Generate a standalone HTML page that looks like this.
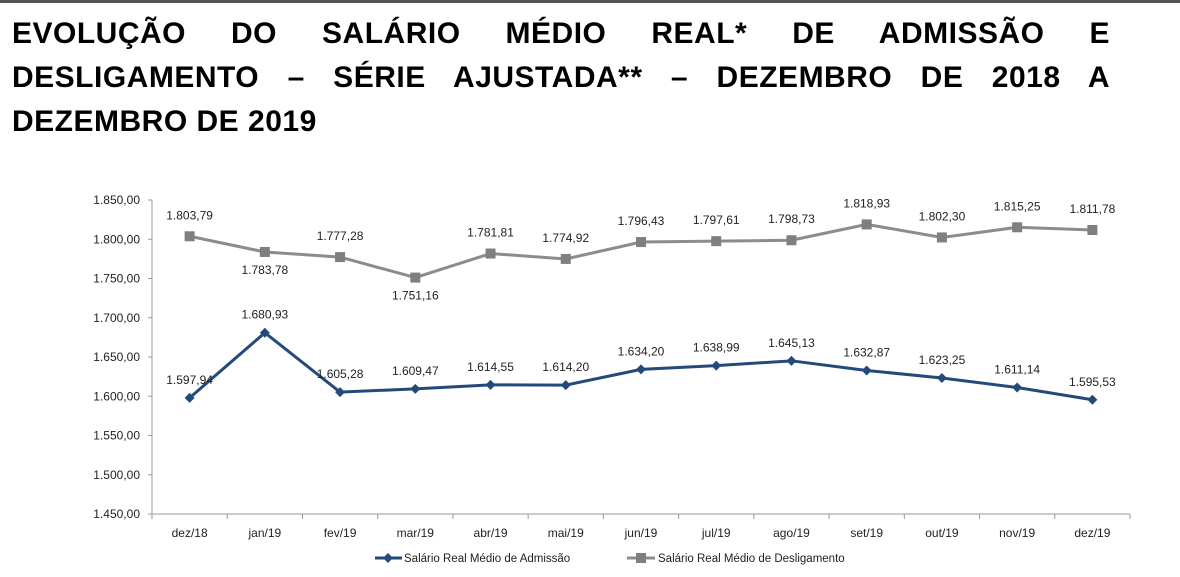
<!DOCTYPE html>
<html><head><meta charset="utf-8"><style>
body{margin:0;width:1180px;height:577px;background:#fff;overflow:hidden;position:relative;font-family:"Liberation Sans",sans-serif}
#topbar{position:absolute;left:0;top:0;width:1180px;height:3px;background:#555}
#title{position:absolute;left:12px;top:12px;width:1098px;font-weight:bold;font-size:30px;line-height:44px;text-align:justify;text-align-last:left;color:#000;letter-spacing:0.5px}
svg{position:absolute;left:0;top:0}
</style></head><body>
<div id="topbar"></div>
<div id="title">EVOLUÇÃO DO SALÁRIO MÉDIO REAL* DE ADMISSÃO E DESLIGAMENTO – SÉRIE AJUSTADA** – DEZEMBRO DE 2018 A DEZEMBRO DE 2019</div>
<svg id="chart" width="1180" height="577"></svg>
<script>
const categories=["dez/18","jan/19","fev/19","mar/19","abr/19","mai/19","jun/19","jul/19","ago/19","set/19","out/19","nov/19","dez/19"];
const admissao=[1597.94,1680.93,1605.28,1609.47,1614.55,1614.20,1634.20,1638.99,1645.13,1632.87,1623.25,1611.14,1595.53];
const desligamento=[1803.79,1783.78,1777.28,1751.16,1781.81,1774.92,1796.43,1797.61,1798.73,1818.93,1802.30,1815.25,1811.78];
const yTicks=[1450,1500,1550,1600,1650,1700,1750,1800,1850];
const NS="http://www.w3.org/2000/svg";
const svg=document.getElementById('chart');
const x0=152,x1=1130,yTop=200,yBot=514,yMin=1450,yMax=1850;
const band=(x1-x0)/categories.length;
const xs=i=>x0+band*(i+0.5);
const ys=v=>yBot-(v-yMin)/(yMax-yMin)*(yBot-yTop);
const fmt=v=>{const s=v.toFixed(2).split('.');return s[0].replace(/\B(?=(\d{3})+(?!\d))/g,'.')+','+s[1];};
function mk(t,a){const e=document.createElementNS(NS,t);for(const k in a)e.setAttribute(k,a[k]);svg.appendChild(e);return e;}
function txt(x,y,s,anchor,size){const e=mk('text',{x:x,y:y,'text-anchor':anchor,'font-size':size||12,fill:'#222','font-family':'Liberation Sans, sans-serif'});e.textContent=s;return e;}
let ax=mk('line',{x1:x0,y1:yTop,x2:x0,y2:yBot,stroke:'#999','stroke-width':1});

let bx=mk('line',{x1:x0-4,y1:yBot,x2:x1,y2:yBot,stroke:'#999','stroke-width':1});

yTicks.forEach(v=>{
  const tk=mk('line',{x1:x0-4,y1:ys(v),x2:x0,y2:ys(v),stroke:'#999'});
  
  const t=txt(x0-12,ys(v)+4,fmt(v),'end',12);
  
});
categories.forEach((c,i)=>{
  const tk=mk('line',{x1:x0+band*i,y1:yBot,x2:x0+band*i,y2:yBot+5,stroke:'#999'});
  
  const t=txt(xs(i),537,c,'middle',12);
  
});
const tk2=mk('line',{x1:x1,y1:yBot,x2:x1,y2:yBot+5,stroke:'#999'});

// desligamento
let p1=mk('polyline',{points:desligamento.map((v,i)=>xs(i)+','+ys(v)).join(' '),fill:'none',stroke:'#8c8c8c','stroke-width':3});

desligamento.forEach((v,i)=>{
  const m=mk('rect',{x:xs(i)-5,y:ys(v)-5,width:10,height:10,fill:'#7f7f7f'});
  
  const up=(i===1||i===3)?false:true;
  const t=txt(xs(i),up?ys(v)-17:ys(v)+22,fmt(v),'middle',12);
  
});
// admissao
let p2=mk('polyline',{points:admissao.map((v,i)=>xs(i)+','+ys(v)).join(' '),fill:'none',stroke:'#244a7a','stroke-width':3});

admissao.forEach((v,i)=>{
  const cx=xs(i),cy=ys(v);
  const m=mk('polygon',{points:`${cx},${cy-5} ${cx+5},${cy} ${cx},${cy+5} ${cx-5},${cy}`,fill:'#244a7a'});
  
  const t=txt(cx,cy-14,fmt(v),'middle',12);
  
});
// legend
let l1=mk('line',{x1:375,y1:558,x2:402,y2:558,stroke:'#244a7a','stroke-width':3});

let l1m=mk('polygon',{points:'388,553 393,558 388,563 383,558',fill:'#244a7a'});

let lt1=txt(404,562,'Salário Real Médio de Admissão','start',11.5);

let l2=mk('line',{x1:627,y1:558,x2:655,y2:558,stroke:'#8c8c8c','stroke-width':3});

let l2m=mk('rect',{x:636,y:553,width:10,height:10,fill:'#7f7f7f'});

let lt2=txt(658,562,'Salário Real Médio de Desligamento','start',11.5);

</script>
</body></html>
